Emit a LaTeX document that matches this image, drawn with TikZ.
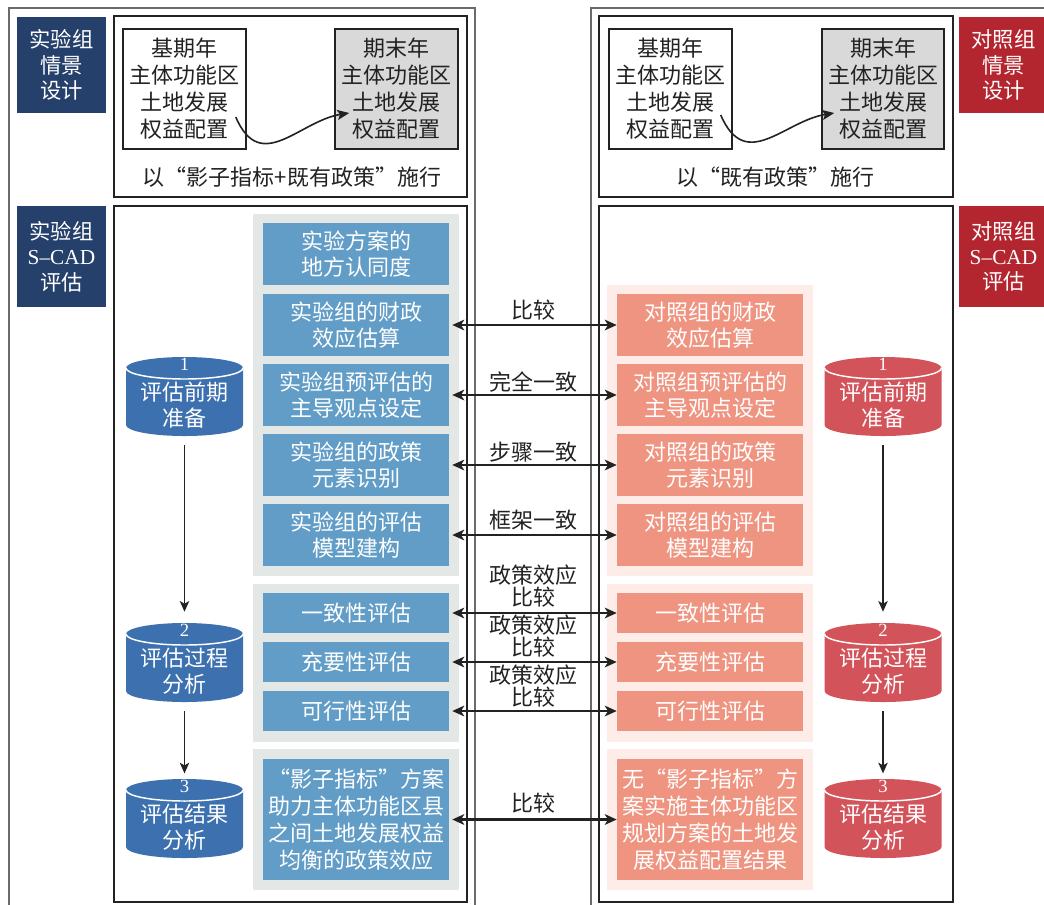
\documentclass[tikz,border=0pt]{standalone}
\usepackage{fontspec}
\setmainfont{Noto Sans CJK SC}
\newfontfamily\latinserif{Liberation Serif}
\usetikzlibrary{arrows.meta,calc}
\definecolor{navy}{HTML}{26406C}
\definecolor{labred}{HTML}{B4262F}
\definecolor{bluebox}{HTML}{619DC7}
\definecolor{bluepanel}{HTML}{E3E7E6}
\definecolor{cylblue}{HTML}{3C70AE}
\definecolor{salmon}{HTML}{EF9480}
\definecolor{pinkpanel}{HTML}{FDECE7}
\definecolor{cylred}{HTML}{D3535A}
\definecolor{boxgray}{HTML}{D9D9D9}
\definecolor{framegray}{HTML}{6A6A6A}
\definecolor{ink}{HTML}{222222}
\newcommand\mycyl[6]{%
  \fill[#4] (#2-58.5,#3+11) -- (#2-58.5,#3+68)
     arc[start angle=180,end angle=0,x radius=58.5,y radius=11]
     -- (#2+58.5,#3+11)
     arc[start angle=0,end angle=-180,x radius=58.5,y radius=11] -- cycle;
  \draw[white,line width=1.1pt] (#2-58.5,#3+11) arc[start angle=180,end angle=0,x radius=58.5,y radius=11];
  \node[cylframe] (#1) at (#2,#3+39.5) {};
  \node[digit] (#1n) at (#2,#3+7.5) {#5};
  \node[cyltext] (#1t) at (#2,#3+48) {#6};
}
\begin{document}
\begin{tikzpicture}[x=0.75pt,y=-0.75pt,
  sz/.style 2 args={minimum width=#1*0.75pt, minimum height=#2*0.75pt},
  lab/.style={inner sep=0pt, text=white, align=center, font=\fontsize{16}{19}\selectfont},
  tbox/.style={draw=ink, line width=1.1pt, inner sep=0pt, align=center, text=ink, font=\fontsize{16.5}{20.25}\selectfont},
  plain/.style={inner sep=0pt, text=ink, font=\fontsize{16.5}{20}\selectfont},
  bbox/.style={fill=bluebox, inner sep=0pt, align=center, text=white, font=\fontsize{16.5}{19}\selectfont},
  sbox/.style={fill=salmon, inner sep=0pt, align=center, text=white, font=\fontsize{16.5}{19}\selectfont},
  bbig/.style={fill=bluebox, inner sep=0pt, align=center, text=white, font=\fontsize{16.5}{20.25}\selectfont},
  sbig/.style={fill=salmon, inner sep=0pt, align=center, text=white, font=\fontsize{16.5}{20.25}\selectfont},
  cylframe/.style={inner sep=0pt, minimum width=87.75pt, minimum height=59.25pt},
  digit/.style={inner sep=0pt, text=white, font=\latinserif\fontsize{14}{14}\selectfont},
  cyltext/.style={inner sep=0pt, text=white, align=center, font=\fontsize{16.5}{19}\selectfont},
  cmp/.style={inner sep=0pt, text=ink, align=center, font=\fontsize{16.5}{16.5}\selectfont},
  frame/.style={draw=framegray, line width=1.1pt},
  innerbox/.style={draw=ink, line width=1.1pt},
  dbl/.style={line width=1.6pt, draw=ink, {Stealth[length=9pt,width=8pt,inset=2.5pt]}-{Stealth[length=9pt,width=8pt,inset=2.5pt]}},
  varr/.style={line width=1.2pt, draw=ink, -{Stealth[length=8pt,width=7pt,inset=2pt]}},
  curv/.style={line width=1.2pt, draw=ink, -{Stealth[length=9pt,width=7.5pt,inset=2pt]}}
]
\useasboundingbox (0,0) rectangle (1044,904);
\clip (0,0) rectangle (1044,904);
\fill[white] (0,0) rectangle (1044,904);

% frames
\draw[frame] (9,8) rectangle (475,940);
\draw[frame] (591,8) rectangle (1080,940);
\draw[innerbox] (114,16) rectangle (467,197);
\draw[innerbox] (599,16) rectangle (953,197);
\draw[innerbox] (114,206) rectangle (467,902);
\draw[innerbox] (599,206) rectangle (953,902);

% side labels
\node[lab, fill=navy, sz={89}{96}] (ltl) at (61.5,65) {实验组\\情景\\设计};
\node[lab, fill=navy, sz={89}{101}] (lbl) at (61.5,256.5) {实验组\\{\latinserif S–CAD}\\评估};
\node[lab, fill=labred, sz={89}{96}] (rtl) at (1003.5,65) {对照组\\情景\\设计};
\node[lab, fill=labred, sz={89}{101}] (rbl) at (1003.5,256.5) {对照组\\{\latinserif S–CAD}\\评估};

% top scenario boxes
\node[tbox, fill=white, sz={123}{120}] (l1) at (184.5,89) {基期年\\主体功能区\\土地发展\\权益配置};
\node[tbox, fill=boxgray, sz={123}{120}] (l2) at (396.5,89) {期末年\\主体功能区\\土地发展\\权益配置};
\node[tbox, fill=white, sz={123}{120}] (r1) at (670.5,89) {基期年\\主体功能区\\土地发展\\权益配置};
\node[tbox, fill=boxgray, sz={122}{120}] (r2) at (883,89) {期末年\\主体功能区\\土地发展\\权益配置};
\node[plain] (ltxt) at (292,177) {以“影子指标+既有政策”施行};
\node[plain] (rtxt) at (775,177) {以“既有政策”施行};

\coordinate (ls) at ($(l1.east)+(-11,28)$);
\coordinate (le) at ($(l2.west)+(15,24)$);
\draw[curv] (ls) .. controls ($(ls)+(25,58)$) and ($(le)+(-50,8)$) .. (le);
\coordinate (rs) at ($(r1.east)+(-12,26)$);
\coordinate (re) at ($(r2.west)+(13,24)$);
\draw[curv] (rs) .. controls ($(rs)+(25,58)$) and ($(re)+(-50,8)$) .. (re);

% panels
\fill[bluepanel] (253,214) rectangle (459,576);
\fill[bluepanel] (253,584) rectangle (459,742);
\fill[bluepanel] (253,749) rectangle (459,890);
\fill[pinkpanel] (607,285) rectangle (813,576);
\fill[pinkpanel] (607,584) rectangle (813,742);
\fill[pinkpanel] (607,749) rectangle (813,890);

% left boxes
\node[bbox, sz={186}{62}] (lA) at (356,254) {实验方案的\\地方认同度};
\node[bbox, sz={186}{62}] (lB) at (356,325) {实验组的财政\\效应估算};
\node[bbox, sz={186}{62}] (lC) at (356,395) {实验组预评估的\\主导观点设定};
\node[bbox, sz={186}{62}] (lD) at (356,465) {实验组的政策\\元素识别};
\node[bbox, sz={186}{62}] (lE) at (356,535) {实验组的评估\\模型建构};
\node[bbox, sz={186}{40}] (lF) at (356,613) {一致性评估};
\node[bbox, sz={186}{40}] (lG) at (356,662) {充要性评估};
\node[bbox, sz={186}{40}] (lH) at (356,711) {可行性评估};
\node[bbig, sz={186}{121}] (lI) at (356,819.5) {“影子指标”方案\\助力主体功能区县\\之间土地发展权益\\均衡的政策效应};

% right boxes
\node[sbox, sz={186}{62}] (rB) at (710,325) {对照组的财政\\效应估算};
\node[sbox, sz={186}{62}] (rC) at (710,395) {对照组预评估的\\主导观点设定};
\node[sbox, sz={186}{62}] (rD) at (710,465) {对照组的政策\\元素识别};
\node[sbox, sz={186}{62}] (rE) at (710,535) {对照组的评估\\模型建构};
\node[sbox, sz={186}{40}] (rF) at (710,613) {一致性评估};
\node[sbox, sz={186}{40}] (rG) at (710,662) {充要性评估};
\node[sbox, sz={186}{40}] (rH) at (710,711) {可行性评估};
\node[sbig, sz={186}{121}] (rI) at (710,819.5) {无“影子指标”方\\案实施主体功能区\\规划方案的土地发\\展权益配置结果};

% cylinders
\mycyl{lc1}{184.5}{357}{cylblue}{1}{评估前期\\准备}
\mycyl{lc2}{184.5}{623}{cylblue}{2}{评估过程\\分析}
\mycyl{lc3}{184.5}{779}{cylblue}{3}{评估结果\\分析}
\mycyl{rc1}{883}{357}{cylred}{1}{评估前期\\准备}
\mycyl{rc2}{883}{623}{cylred}{2}{评估过程\\分析}
\mycyl{rc3}{883}{779}{cylred}{3}{评估结果\\分析}

\draw[varr, shorten <=6.75pt, shorten >=8.25pt] (lc1.south) -- (lc2.north);
\draw[varr, shorten <=6.75pt, shorten >=4pt] (lc2.south) -- (lc3.north);
\draw[varr, shorten <=6.75pt, shorten >=8.25pt] (rc1.south) -- (rc2.north);
\draw[varr, shorten <=6.75pt, shorten >=4pt] (rc2.south) -- (rc3.north);

% comparison arrows
\draw[dbl, shorten <=2.25pt] (lB.east) -- node[cmp, midway, yshift=11.25pt] {比较} (rB.west);
\draw[dbl, shorten <=2.25pt] (lC.east) -- node[cmp, midway, yshift=10pt] {完全一致} (rC.west);
\draw[dbl, shorten <=2.25pt] (lD.east) -- node[cmp, midway, yshift=10pt] {步骤一致} (rD.west);
\draw[dbl, shorten <=2.25pt] (lE.east) -- node[cmp, midway, yshift=11pt] {框架一致} (rE.west);
\draw[dbl, shorten <=2.25pt] (lF.east) -- node[cmp, midway, yshift=20pt] {政策效应\\比较} (rF.west);
\draw[dbl, shorten <=2.25pt] (lG.east) -- node[cmp, midway, yshift=19.5pt] {政策效应\\比较} (rG.west);
\draw[dbl, shorten <=2.25pt] (lH.east) -- node[cmp, midway, yshift=19pt] {政策效应\\比较} (rH.west);
\draw[dbl, shorten <=2.25pt] (lI.east) -- node[cmp, midway, yshift=12pt] {比较} (rI.west);
\end{tikzpicture}
\end{document}
